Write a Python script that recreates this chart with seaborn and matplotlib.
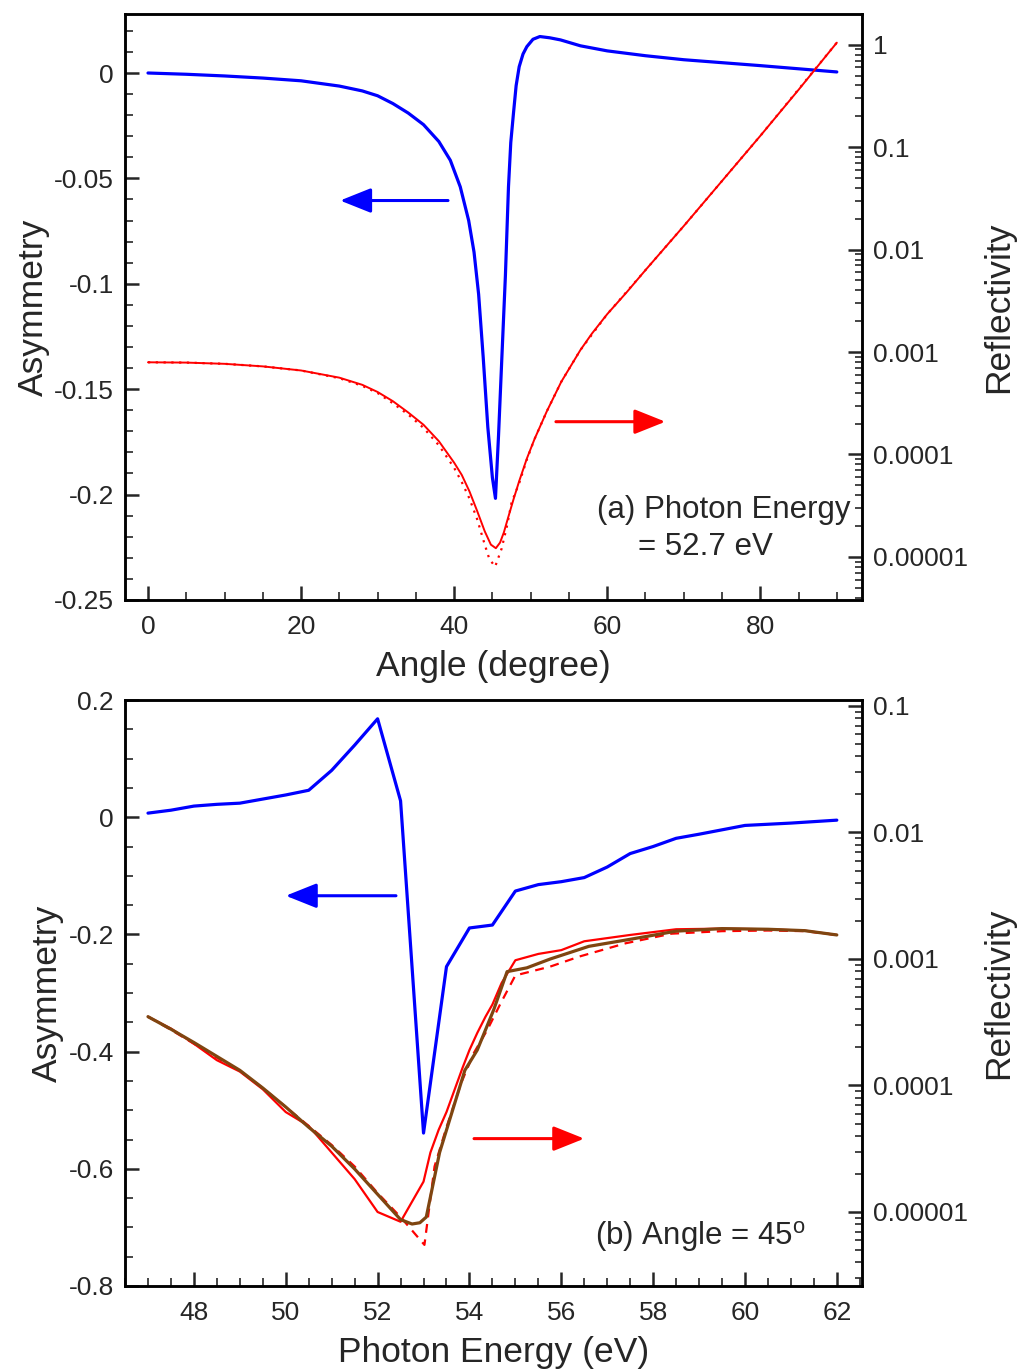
"""
Asymmetry / reflectivity vs angle and photon energy (two stacked panels)
"""

import numpy as np
import matplotlib
matplotlib.use('Agg')
import matplotlib.pyplot as plt
from matplotlib.ticker import MultipleLocator, FixedLocator, FuncFormatter, LogLocator, NullFormatter
import seaborn as sns

# ---- panel (a): photon energy 52.7 eV, vs angle ----
angle_asym = [0, 5, 10, 15, 20, 25, 28, 30, 32, 34, 36, 38, 39.5, 40.8, 41.9, 42.6, 43.2,
              43.8, 44.4, 45.0, 45.4, 45.8, 46.2, 46.7, 47.1, 47.4, 47.75, 48.1, 48.5, 49,
              49.5, 50.3, 51.2, 52.5, 53.9, 56.5, 60, 65, 70, 80, 90]
asym_angle = [0, -0.0006, -0.0014, -0.0024, -0.0037, -0.0062, -0.0085, -0.0108, -0.0145,
              -0.019, -0.0245, -0.0325, -0.0414, -0.054, -0.070, -0.085, -0.105, -0.135,
              -0.168, -0.192, -0.2018, -0.172, -0.138, -0.096, -0.054, -0.033, -0.0192,
              -0.006, 0.003, 0.009, 0.0125, 0.016, 0.0173, 0.0167, 0.0157, 0.0129, 0.0105,
              0.0082, 0.0063, 0.0035, 0.0005]

angle_refl = [0, 5, 10, 15, 20, 25, 28, 30, 32, 34, 36, 38, 40, 41, 42, 43, 44, 44.8,
              45.45, 46, 46.5, 47, 47.75, 48.5, 49.5, 50.5, 52.1, 54, 56.5, 58, 60, 62.5,
              65, 70, 75, 80, 85, 90]
log_refl_angle = [-3.10, -3.103, -3.115, -3.14, -3.18, -3.25, -3.32, -3.39, -3.48, -3.59,
                  -3.71, -3.87, -4.08, -4.2, -4.36, -4.55, -4.75, -4.88, -4.915, -4.86,
                  -4.76, -4.63, -4.44, -4.26, -4.04, -3.85, -3.58, -3.29, -2.98, -2.82,
                  -2.63, -2.42, -2.2, -1.77, -1.33, -0.89, -0.44, 0.02]

angle_refl_dot = [0, 5, 10, 15, 20, 25, 28, 30, 32, 34, 36, 38, 40, 41, 42, 43, 44, 44.6,
                  45.36, 46.2, 46.9, 47.5, 48.5, 49.5, 50.5, 52.1, 54, 56.5, 60, 70, 80, 90]
log_refl_angle_dot = [-3.10, -3.103, -3.115, -3.14, -3.18, -3.255, -3.33, -3.40, -3.50,
                      -3.61, -3.74, -3.91, -4.13, -4.27, -4.43, -4.63, -4.88, -5.02, -5.095,
                      -4.92, -4.70, -4.47, -4.28, -4.05, -3.85, -3.58, -3.29, -2.98, -2.63,
                      -1.77, -0.89, 0.02]

# ---- panel (b): angle 45 deg, vs photon energy ----
energy_asym = [47, 47.5, 48, 48.5, 49, 49.5, 50, 50.5, 51, 51.5, 52, 52.5, 53, 53.5, 54,
               54.5, 55, 55.5, 56, 56.5, 57, 57.5, 58, 58.5, 59, 60, 61, 62]
asym_energy = [0.007, 0.012, 0.019, 0.022, 0.024, 0.031, 0.038, 0.046, 0.08, 0.123, 0.168,
               0.028, -0.539, -0.255, -0.189, -0.184, -0.126, -0.115, -0.110, -0.103,
               -0.085, -0.062, -0.05, -0.036, -0.029, -0.014, -0.010, -0.005]

energy_red = [47, 47.5, 48, 48.5, 49, 49.5, 50, 50.5, 51, 51.5, 52, 52.5, 53.0, 53.15,
              53.33, 53.5, 53.7, 53.85, 54.0, 54.17, 54.35, 54.5, 54.7, 55.0, 55.5, 56.0,
              56.5, 57.5, 58.5, 59.5, 60.5, 61.3, 62]
log_refl_red = [-3.456, -3.55, -3.67, -3.80, -3.89, -4.03, -4.21, -4.32, -4.53, -4.74, -5.0,
                -5.077, -4.76, -4.53, -4.35, -4.21, -4.01, -3.86, -3.72, -3.585, -3.456,
                -3.36, -3.19, -3.01, -2.96, -2.93, -2.86, -2.81, -2.765, -2.76, -2.765,
                -2.776, -2.81]

energy_brown = [47, 47.5, 48, 48.5, 49, 49.5, 50, 50.5, 51, 51.5, 52, 52.5, 52.75, 52.92,
                53.06, 53.35, 53.57, 53.9, 54.17, 54.53, 54.82, 55.25, 55.76, 56.6, 57.57,
                58.5, 59.5, 60.5, 61.3, 62]
log_refl_brown = [-3.456, -3.555, -3.66, -3.77, -3.88, -4.02, -4.17, -4.33, -4.48, -4.66,
                  -4.86, -5.06, -5.095, -5.085, -5.04, -4.53, -4.27, -3.88, -3.72, -3.40,
                  -3.10, -3.07, -3.0, -2.90, -2.84, -2.78, -2.76, -2.765, -2.776, -2.81]

energy_dash = [47, 47.5, 48, 48.5, 49, 49.5, 50, 50.5, 51, 51.5, 52, 52.5, 53.02, 53.24,
               53.5, 53.82, 54.1, 54.39, 54.68, 55.0, 55.76, 56.4, 57.4, 58.4, 59.5, 60.5,
               61.3, 62]
log_refl_dash = [-3.456, -3.56, -3.67, -3.78, -3.885, -4.02, -4.17, -4.32, -4.47, -4.64,
                 -4.85, -5.04, -5.26, -4.64, -4.33, -3.98, -3.74, -3.56, -3.35, -3.13,
                 -3.06, -2.98, -2.876, -2.80, -2.78, -2.775, -2.78, -2.81]

# arrows: (x_start, x_end, y)
arrow_a_blue = (39.2, 25.1, -0.0605)
arrow_a_red = (53.3, 67.6, -3.68)
arrow_b_blue = (52.4, 50.0, -0.134)
arrow_b_red = (54.1, 56.5, -4.42)

refl_ticks = [1e-5, 1e-4, 1e-3, 1e-2, 1e-1, 1]
refl_labels = {1e-5: '0.00001', 1e-4: '0.0001', 1e-3: '0.001', 1e-2: '0.01',
               1e-1: '0.1', 1: '1'}

BLUE = '#0000ff'
RED = '#ff0000'
BROWN = '#7f4510'

sns.set_style('ticks')
plt.rcParams['font.family'] = ['Liberation Sans', 'DejaVu Sans']
plt.rcParams['mathtext.fontset'] = 'custom'
plt.rcParams['mathtext.rm'] = 'Liberation Sans'
plt.rcParams['axes.unicode_minus'] = False

TICK_FS = 19
LABEL_FS = 25.5
NOTE_FS = 22.5


def style_axes(ax, ax2):
    for a in (ax, ax2):
        for sp in a.spines.values():
            sp.set_linewidth(1.8)
            sp.set_color('black')
    ax.tick_params(which='major', direction='in', length=10, width=1.8,
                   labelsize=TICK_FS, pad=8, top=False, right=False)
    ax.tick_params(which='minor', direction='in', length=5.5, width=1.2,
                   top=False, right=False)
    ax.tick_params(axis='x', which='major', pad=11)
    ax2.tick_params(which='major', direction='in', length=10, width=1.8,
                    labelsize=TICK_FS, pad=8)
    ax2.tick_params(which='minor', direction='in', length=5, width=1.2)
    ax.yaxis.set_major_formatter(FuncFormatter(lambda v, p: '%g' % round(v, 4)))
    ax.xaxis.set_major_formatter(FuncFormatter(lambda v, p: '%g' % v))
    ax2.set_yscale('log')
    ax2.yaxis.set_major_locator(FixedLocator(refl_ticks))
    ax2.yaxis.set_major_formatter(FuncFormatter(lambda v, p: refl_labels.get(v, '')))
    ax2.yaxis.set_minor_locator(LogLocator(base=10, subs=np.arange(2, 10)))
    ax2.yaxis.set_minor_formatter(NullFormatter())


def arrow(ax, spec, color, log=False):
    x0, x1, y = spec
    if log:
        y = 10 ** y
    ax.annotate('', xy=(x1, y), xytext=(x0, y),
                arrowprops=dict(arrowstyle='-|>,head_length=0.95,head_width=0.38',
                                color=color, lw=2.2, shrinkA=0, shrinkB=0,
                                mutation_scale=20))


fig = plt.figure(figsize=(10.19, 13.71), dpi=100)

# ---------------- panel (a) ----------------
ax1 = fig.add_axes([0.1227, 0.5624, 0.7233, 0.4274])
ax1r = ax1.twinx()
sns.lineplot(x=angle_asym, y=asym_angle, ax=ax1, color=BLUE, linewidth=2.3,
             sort=False, estimator=None)
sns.lineplot(x=angle_refl_dot, y=np.power(10.0, log_refl_angle_dot), ax=ax1r, color=RED,
             linewidth=1.6, linestyle=(0, (1, 2.5)), sort=False, estimator=None)
sns.lineplot(x=angle_refl, y=np.power(10.0, log_refl_angle), ax=ax1r, color=RED,
             linewidth=1.4, sort=False, estimator=None)

ax1.set_xlim(-3, 93.3)
ax1.set_ylim(-0.25, 0.028)
ax1r.set_ylim(10 ** -5.42, 10 ** 0.30)
ax1.xaxis.set_major_locator(MultipleLocator(20))
ax1.xaxis.set_minor_locator(MultipleLocator(5))
ax1.yaxis.set_major_locator(MultipleLocator(0.05))
ax1.yaxis.set_minor_locator(MultipleLocator(0.01))
style_axes(ax1, ax1r)
ax1.set_xlabel('Angle (degree)', fontsize=LABEL_FS, labelpad=8)
ax1.set_ylabel('Asymmetry', fontsize=LABEL_FS, labelpad=3)
ax1r.set_ylabel('Reflectivity', fontsize=LABEL_FS, labelpad=10)

arrow(ax1, arrow_a_blue, BLUE)
arrow(ax1r, arrow_a_red, RED, log=True)
ax1.text(0.984, 0.154, '(a) Photon Energy', transform=ax1.transAxes, ha='right',
         va='center', fontsize=NOTE_FS)
ax1.text(0.788, 0.090, '= 52.7 eV', transform=ax1.transAxes, ha='center',
         va='center', fontsize=NOTE_FS)

# ---------------- panel (b) ----------------
ax2 = fig.add_axes([0.1227, 0.0620, 0.7233, 0.4274])
ax2r = ax2.twinx()
sns.lineplot(x=energy_asym, y=asym_energy, ax=ax2, color=BLUE, linewidth=2.3,
             sort=False, estimator=None)
sns.lineplot(x=energy_dash, y=np.power(10.0, log_refl_dash), ax=ax2r, color=RED,
             linewidth=1.6, linestyle=(0, (4, 3)), sort=False, estimator=None)
sns.lineplot(x=energy_red, y=np.power(10.0, log_refl_red), ax=ax2r, color=RED,
             linewidth=1.6, sort=False, estimator=None)
sns.lineplot(x=energy_brown, y=np.power(10.0, log_refl_brown), ax=ax2r, color=BROWN,
             linewidth=2.3, sort=False, estimator=None)

ax2.set_xlim(46.5, 62.55)
ax2.set_ylim(-0.8, 0.2)
ax2r.set_ylim(10 ** -5.585, 10 ** -0.953)
ax2.xaxis.set_major_locator(MultipleLocator(2))
ax2.xaxis.set_minor_locator(MultipleLocator(0.5))
ax2.yaxis.set_major_locator(MultipleLocator(0.2))
ax2.yaxis.set_minor_locator(MultipleLocator(0.05))
style_axes(ax2, ax2r)
ax2.set_xlabel('Photon Energy (eV)', fontsize=LABEL_FS, labelpad=8)
ax2.set_ylabel('Asymmetry', fontsize=LABEL_FS, labelpad=3)
ax2r.set_ylabel('Reflectivity', fontsize=LABEL_FS, labelpad=10)

arrow(ax2, arrow_b_blue, BLUE)
arrow(ax2r, arrow_b_red, RED, log=True)
ax2.text(0.780, 0.085, r'(b) Angle = 45$^{\mathrm{o}}$', transform=ax2.transAxes,
         ha='center', va='center', fontsize=NOTE_FS)

fig.savefig('out.png', dpi=100)
